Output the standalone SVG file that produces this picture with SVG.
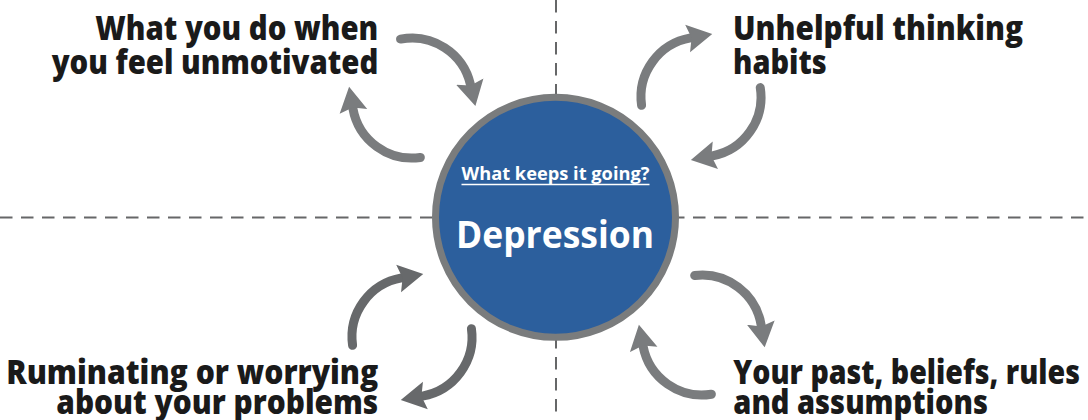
<svg xmlns="http://www.w3.org/2000/svg" width="1088" height="420" viewBox="0 0 1088 420">
  <style>
    .lbl { font-family: "Open Sans", "Liberation Sans", sans-serif; font-weight: 800; font-size: 33px; fill: #1a1a1a; }
    .dash { stroke: #666768; stroke-width: 2; stroke-dasharray: 12.5 8.5; fill: none; }
    .arc { fill: none; stroke: #7a7c7e; stroke-width: 9; stroke-linecap: round; marker-end: url(#ah); }
    .arc.dark { stroke: #67696b; marker-end: url(#ahd); }
    .ctext { font-family: "Open Sans", "Liberation Sans", sans-serif; font-weight: 700; fill: #ffffff; text-anchor: middle; }
  </style>
  <defs>
    <marker id="ah" markerUnits="userSpaceOnUse" viewBox="0 -15 26 30" markerWidth="26" markerHeight="30" refX="3" refY="0" orient="auto">
      <path d="M0,-14 L25,0 L0,14 L4,0 Z" fill="#7a7c7e"/>
    </marker>
    <marker id="ahd" markerUnits="userSpaceOnUse" viewBox="0 -15 26 30" markerWidth="26" markerHeight="30" refX="3" refY="0" orient="auto">
      <path d="M0,-14 L25,0 L0,14 L4,0 Z" fill="#67696b"/>
    </marker>
  </defs>
  <rect width="1088" height="420" fill="#ffffff"/>
  <g id="guides">
    <line class="dash" x1="0" y1="217.5" x2="1088" y2="217.5"/>
    <line class="dash" x1="556" y1="0" x2="556" y2="420"/>
  </g>
  <g id="connectors">
    <path class="arc" d="M400.55,39.10 A60,60 0 0 1 470.46,84.50"/>
    <path class="arc" d="M420.35,157.42 A60,60 0 0 1 352.91,108.42"/>
    <path class="arc" d="M641.58,105.35 A60,60 0 0 1 690.58,37.91"/>
    <path class="arc" d="M760.26,87.61 A60,60 0 0 1 712.45,155.90"/>
    <path class="arc dark" d="M352.58,345.35 A60,60 0 0 1 401.58,277.91"/>
    <path class="arc dark" d="M471.42,328.65 A60,60 0 0 1 422.42,396.09"/>
    <path class="arc" d="M694.69,275.45 A60,60 0 0 1 761.26,325.62"/>
    <path class="arc" d="M711.38,394.26 A60,60 0 0 1 643.10,346.45"/>
  </g>
  <g id="depression">
    <circle cx="555.5" cy="217.3" r="120" fill="#2c5f9d" stroke="#7a7c7d" stroke-width="7"/>
    <text class="ctext" x="555.5" y="180" font-size="17" textLength="188" lengthAdjust="spacingAndGlyphs">What keeps it going?</text>
    <line x1="461.5" y1="184.5" x2="649.5" y2="184.5" stroke="#ffffff" stroke-width="1.6"/>
    <text class="ctext" x="555" y="248.3" font-size="37" textLength="198" lengthAdjust="spacingAndGlyphs">Depression</text>
  </g>
  <g id="unmotivated">
    <text class="lbl" x="378.3" y="39.5" text-anchor="end" textLength="283" lengthAdjust="spacingAndGlyphs">What you do when</text>
    <text class="lbl" x="378.3" y="73.5" text-anchor="end" textLength="326.6" lengthAdjust="spacingAndGlyphs">you feel unmotivated</text>
  </g>
  <g id="thinking">
    <text class="lbl" x="733" y="39.5" textLength="290" lengthAdjust="spacingAndGlyphs">Unhelpful thinking</text>
    <text class="lbl" x="733" y="73.5" textLength="93.7" lengthAdjust="spacingAndGlyphs">habits</text>
  </g>
  <g id="ruminating">
    <text class="lbl" x="378.3" y="383.5" text-anchor="end" textLength="372" lengthAdjust="spacingAndGlyphs">Ruminating or worrying</text>
    <text class="lbl" x="378.3" y="413.5" text-anchor="end" textLength="322" lengthAdjust="spacingAndGlyphs">about your problems</text>
  </g>
  <g id="past">
    <text class="lbl" x="733.3" y="383.5" textLength="346.7" lengthAdjust="spacingAndGlyphs">Your past, beliefs, rules</text>
    <text class="lbl" x="733.3" y="413.5" textLength="254.7" lengthAdjust="spacingAndGlyphs">and assumptions</text>
  </g>
</svg>
